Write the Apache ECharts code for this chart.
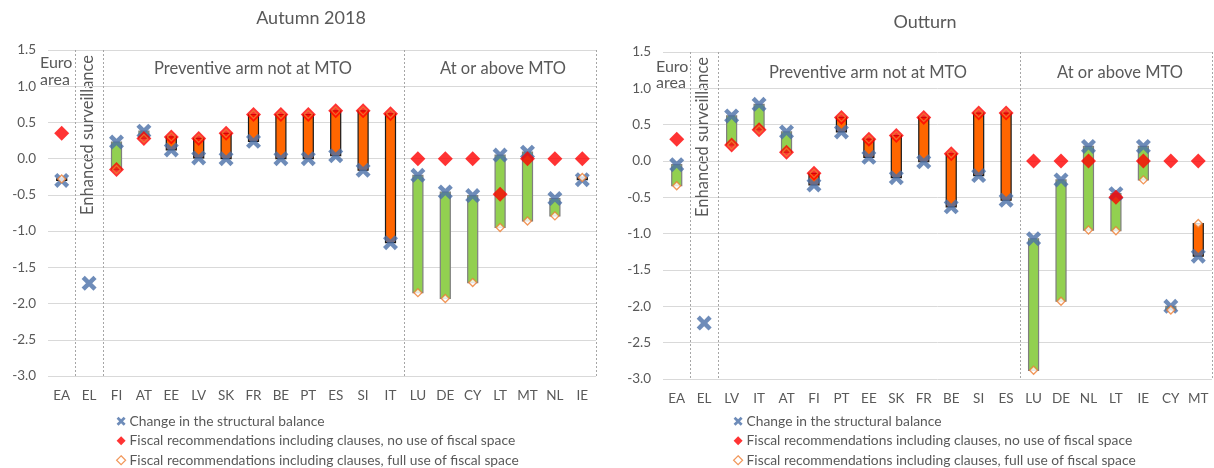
<!DOCTYPE html>
<html><head><meta charset="utf-8">
<script src="https://cdn.jsdelivr.net/npm/echarts@6/dist/echarts.min.js"></script>
<style>html,body{margin:0;padding:0;background:#fff}#c{width:1214px;height:468px}</style>
</head><body><div id="c"></div>
<script>
// ---- Data: Autumn 2018 ----
const categoriesA = ['EA','EL','FI','AT','EE','LV','SK','FR','BE','PT','ES','SI','IT','LU','DE','CY','LT','MT','NL','IE'];
const changeA  = [-0.30,-1.72,0.23,0.38,0.12,0.01,0.00,0.24,0.00,0.00,0.04,-0.16,-1.16,-0.23,-0.46,-0.51,0.05,0.09,-0.55,-0.29];
const noUseA   = [0.35,null,-0.15,0.28,0.30,0.28,0.35,0.61,0.61,0.61,0.66,0.66,0.62,0,0,0,-0.49,0,0,0];
const fullUseA = [-0.28,null,-0.15,0.28,0.30,0.28,0.35,0.61,0.61,0.61,0.66,0.66,0.62,-1.85,-1.93,-1.71,-0.95,-0.86,-0.79,-0.26];
// ---- Data: Outturn ----
const categoriesB = ['EA','EL','LV','IT','AT','FI','PT','EE','SK','FR','BE','SI','ES','LU','DE','NL','LT','IE','CY','MT'];
const changeB  = [-0.05,-2.23,0.62,0.78,0.40,-0.33,0.40,0.05,-0.23,-0.01,-0.63,-0.20,-0.54,-1.07,-0.26,0.20,-0.45,0.20,-2.00,-1.31];
const noUseB   = [0.30,null,0.22,0.43,0.12,-0.17,0.60,0.30,0.35,0.60,0.10,0.66,0.66,0,0,0,-0.50,0,0,0];
const fullUseB = [-0.34,null,0.22,0.43,0.12,-0.17,0.60,0.30,0.35,0.60,0.10,0.66,0.66,-2.88,-1.93,-0.95,-0.96,-0.26,-2.05,-0.86];
const yTicks = { min: -3, max: 1.5, interval: 0.5 };
const titles = ['Autumn 2018', 'Outturn'];
const seriesNames = ['Change in the structural balance',
  'Fiscal recommendations including clauses, no use of fiscal space',
  'Fiscal recommendations including clauses, full use of fiscal space'];
const separatorIdx = [1, 2, 13];

const FONT = 'Lato, "Open Sans", sans-serif';
const TXT = '#595959';
const crossPath = 'path://M0,2.1 L2.1,0 L5,2.9 L7.9,0 L10,2.1 L7.1,5 L10,7.9 L7.9,10 L5,7.1 L2.1,10 L0,7.9 L2.9,5 Z';

const chart = echarts.init(document.getElementById('c'), null, {renderer: 'canvas'});

function xAxisFor(cats, gi) {
  return {
    type: 'category', gridIndex: gi, data: cats, boundaryGap: true,
    axisLine: {show: false}, axisTick: {show: false},
    axisLabel: {color: TXT, fontFamily: FONT, fontSize: 13.5, margin: 13, interval: 0},
    splitLine: {show: true, interval: (i) => separatorIdx.indexOf(i) >= 0,
      lineStyle: {color: '#A6A6A6', type: [2, 2], width: 1}}
  };
}
function yAxisFor(gi) {
  return {
    type: 'value', gridIndex: gi, min: yTicks.min, max: yTicks.max, interval: yTicks.interval,
    axisLine: {show: false}, axisTick: {show: false},
    axisLabel: {color: TXT, fontFamily: FONT, fontSize: 13.5, margin: 12, formatter: v => v.toFixed(1)},
    splitLine: {lineStyle: {color: '#D9D9D9', width: 1}}
  };
}
function seriesFor(change, noUse, full, gi) {
  const barData = change.map((c, i) => [i, c, full[i]]);
  return [
    {
      type: 'custom', name: 'bars', xAxisIndex: gi, yAxisIndex: gi, z: 1,
      data: barData, encode: {x: 0, y: [1, 2]},
      renderItem: function (params, api) {
        const i = api.value(0), a = api.value(1), b = api.value(2);
        if (b === null || isNaN(b) || a === b) return;
        const p1 = api.coord([i, a]), p2 = api.coord([i, b]);
        const y = Math.min(p1[1], p2[1]), h = Math.abs(p1[1] - p2[1]);
        const green = a > b;
        return {type: 'rect', shape: {x: p1[0] - 5, y: y, width: 10, height: h},
          style: {fill: green ? '#92D050' : '#FF6600', stroke: green ? '#7F7F7F' : '#1A1A1A', lineWidth: 1.2}};
      }
    },
    {
      type: 'scatter', name: seriesNames[0], xAxisIndex: gi, yAxisIndex: gi, z: 2,
      symbol: crossPath, symbolSize: 15, data: change,
      itemStyle: {color: '#4A6FA8'}
    },
    {
      type: 'scatter', name: seriesNames[1], xAxisIndex: gi, yAxisIndex: gi, z: 3,
      symbol: 'diamond', symbolSize: 15, data: noUse,
      itemStyle: {color: '#FF0000'}
    },
    {
      type: 'scatter', name: seriesNames[2], xAxisIndex: gi, yAxisIndex: gi, z: 4,
      symbol: 'diamond', symbolSize: 8,
      data: full.map((v, i) => ({value: v,
        itemStyle: {color: (v !== null && v === noUse[i]) ? 'rgba(255,0,0,0)' : '#FFFFFF'}})),
      itemStyle: {color: '#FFFFFF', borderColor: '#ED7D31', borderWidth: 1.3}
    }
  ];
}
function legendFor(left) {
  return {
    orient: 'vertical', left: left, top: 413, height: 60, padding: 0,
    itemWidth: 9, itemHeight: 9, itemGap: 3,
    textStyle: {color: TXT, fontFamily: FONT, fontSize: 13.8, padding: [0, 0, 0, -1], lineHeight: 16.5},
    selectedMode: false,
    data: [
      {name: seriesNames[0], icon: crossPath, itemStyle: {color: '#4A6FA8'}},
      {name: seriesNames[1], icon: 'diamond', itemStyle: {color: '#FF0000'}},
      {name: seriesNames[2], icon: 'diamond', itemStyle: {color: '#FFFFFF', borderColor: '#ED7D31', borderWidth: 1.2}}
    ]
  };
}
function txt(x, y, s, size, extra) {
  return Object.assign({type: 'text', x: x, y: y, silent: true,
    style: {text: s, fill: TXT, font: size + 'px ' + FONT, textAlign: 'center', textVerticalAlign: 'middle'}}, extra || {});
}
function ltxt(x, y, s, size) {
  return {type: 'text', x: x, y: y, silent: true,
    style: {text: s, fill: TXT, font: size + 'px ' + FONT, textAlign: 'left', textVerticalAlign: 'middle'}};
}

const option = {
  animation: false,
  grid: [
    {left: 48, right: 618, top: 50, bottom: 92},
    {left: 663, right: 2, top: 52, bottom: 89}
  ],
  xAxis: [xAxisFor(categoriesA, 0), xAxisFor(categoriesB, 1)],
  yAxis: [yAxisFor(0), yAxisFor(1)],
  legend: [legendFor(116), legendFor(733)],
  series: [].concat(seriesFor(changeA, noUseA, fullUseA, 0), seriesFor(changeB, noUseB, fullUseB, 1)),
  graphic: [
    txt(311, 18, titles[0], 18),
    txt(925, 22, titles[1], 18),
    ltxt(40, 63, 'Euro', 16),
    ltxt(40, 80, 'area', 16),
    txt(88, 135, 'Enhanced surveillance', 16.5, {rotation: Math.PI / 2}),
    txt(253, 69, 'Preventive arm not at MTO', 16.5),
    txt(503, 69, 'At or above MTO', 16.5),
    ltxt(656, 67, 'Euro', 16),
    ltxt(656, 83, 'area', 16),
    txt(703, 137, 'Enhanced surveillance', 16.5, {rotation: Math.PI / 2}),
    txt(868, 73, 'Preventive arm not at MTO', 16.5),
    txt(1120, 73, 'At or above MTO', 16.5)
  ]
};
chart.setOption(option);
</script></body></html>
